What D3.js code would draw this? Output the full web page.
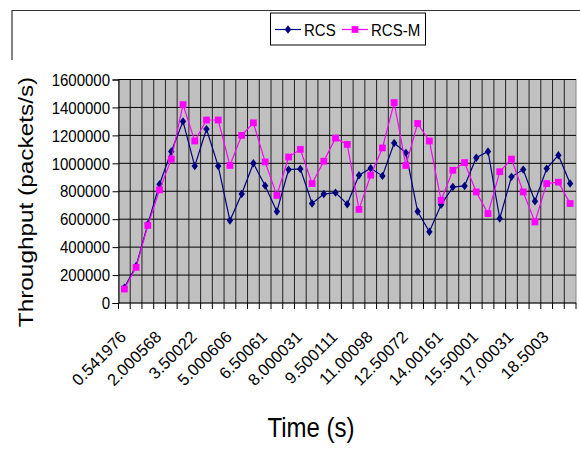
<!DOCTYPE html>
<html>
<head>
<meta charset="utf-8">
<script src="https://cdn.jsdelivr.net/npm/d3@7"></script>
<style>
    body { margin: 0; background: #fff; }
    svg { display: block; font-family: 'Liberation Sans', Arial, sans-serif; }
</style>
</head>
<body>
<div class="main"></div>
<script>
// values
const rcs = [110000, 265000, 565000, 850000, 1085000, 1300000, 980000, 1245000, 980000, 590000,
    780000, 1000000, 840000, 655000, 955000, 960000, 712000, 780000, 790000, 707000,
    915000, 965000, 910000, 1145000, 1075000, 655000, 510000, 703000, 830000, 838000,
    1040000, 1085000, 605000, 903000, 955000, 728000, 962000, 1058000, 855000];
const rcsM = [100000, 255000, 555000, 810000, 1030000, 1420000, 1160000, 1310000, 1310000, 985000,
    1200000, 1290000, 1010000, 770000, 1045000, 1100000, 855000, 1015000, 1180000, 1135000,
    670000, 915000, 1110000, 1435000, 985000, 1285000, 1160000, 735000, 950000, 1005000,
    795000, 640000, 940000, 1030000, 795000, 580000, 855000, 865000, 712000];
const timeLabels = ['0.541976', '2.000568', '3.50022', '5.000606', '6.50061', '8.000031', '9.500111',
    '11.00098', '12.50072', '14.00161', '15.50001', '17.00031', '18.5003'];
const yTicks = [0, 200000, 400000, 600000, 800000, 1000000, 1200000, 1400000, 1600000];
const seriesNames = ['RCS', 'RCS-M'];

const w = 580, h = 456,
    plot = {left: 118.5, right: 576, top: 79.5, bottom: 303},
    stretch = 1.16; // the source picture is a bit taller than normal text

const svg = d3.select('.main')
            .append('svg')
            .attr('width', w)
            .attr('height', h)

// outer frame (only top and a bit of the left side show)
svg.append('path')
    .attr('d', `M12,60 V10.5 H${w}`)
    .attr('fill', 'none')
    .attr('stroke', '#333')
    .attr('stroke-width', 1.2)

const cats = d3.range(rcs.length);
const x = d3.scaleBand()
            .domain(cats)
            .range([plot.left, plot.right])
const y = d3.scaleLinear()
            .domain([0, 1600000])
            .range([plot.bottom, plot.top])

svg.append('rect')
    .attr('x', plot.left)
    .attr('y', plot.top)
    .attr('width', plot.right - plot.left)
    .attr('height', plot.bottom - plot.top)
    .attr('fill', '#c0c0c0')
    .attr('stroke', '#888')

// vertical grid at category boundaries
svg.append('g')
    .selectAll('line')
    .data(cats.slice(1))
    .enter()
    .append('line')
    .attr('x1', d => x(d))
    .attr('x2', d => x(d))
    .attr('y1', plot.top)
    .attr('y2', plot.bottom)
    .attr('stroke', '#222')

// horizontal grid
svg.append('g')
    .selectAll('line')
    .data(yTicks.slice(1))
    .enter()
    .append('line')
    .attr('x1', plot.left)
    .attr('x2', plot.right)
    .attr('y1', d => y(d))
    .attr('y2', d => y(d))
    .attr('stroke', '#000')

// y axis
const yAxis = svg.append('g')
            .attr('transform', `translate(${plot.left}, 0)`)
            .call(d3.axisLeft(y).tickValues(yTicks).tickSize(6).tickFormat(d3.format('d')))
yAxis.select('.domain').attr('stroke', '#000')
yAxis.selectAll('text').remove()
svg.append('g')
    .selectAll('text')
    .data(yTicks)
    .enter()
    .append('text')
    .attr('transform', d => `translate(110, ${y(d) + 6.2}) scale(1, ${stretch})`)
    .attr('text-anchor', 'end')
    .attr('font-size', 15)
    .text(d => d)

// x axis with a tick at each category boundary
svg.append('line')
    .attr('x1', plot.left)
    .attr('x2', plot.right)
    .attr('y1', plot.bottom)
    .attr('y2', plot.bottom)
    .attr('stroke', '#000')
svg.append('g')
    .selectAll('line')
    .data(cats.concat([cats.length]))
    .enter()
    .append('line')
    .attr('x1', d => d < cats.length ? x(d) : plot.right)
    .attr('x2', d => d < cats.length ? x(d) : plot.right)
    .attr('y1', plot.bottom)
    .attr('y2', plot.bottom + 6)
    .attr('stroke', '#000')

svg.append('g')
    .selectAll('text')
    .data(timeLabels)
    .enter()
    .append('text')
    .attr('transform', (d, i) => {
        const cx = x(i * 3) + x.bandwidth() / 2;
        return `translate(${cx + 3}, 338) rotate(-45)`
    })
    .attr('text-anchor', 'end')
    .attr('font-size', 16.5)
    .text(d => d)

// series
const line = d3.line()
            .x((d, i) => x(i) + x.bandwidth() / 2)
            .y(d => y(d))

const series = [
    {name: seriesNames[0], values: rcs, color: '#000080', marker: 'diamond'},
    {name: seriesNames[1], values: rcsM, color: '#ff00ff', marker: 'square'}
];
const diamond = 'M0,-4.2 L3.2,0 L0,4.2 L-3.2,0 Z';
const square = 'M-3.4,-3.4 H3.4 V3.4 H-3.4 Z';

series.forEach(s => {
    svg.append('path')
        .datum(s.values)
        .attr('d', line)
        .attr('fill', 'none')
        .attr('stroke', s.color)
        .attr('stroke-width', 1.2)
    svg.append('g')
        .selectAll('path')
        .data(s.values)
        .enter()
        .append('path')
        .attr('transform', (d, i) => `translate(${x(i) + x.bandwidth() / 2}, ${y(d)})`)
        .attr('d', s.marker == 'diamond' ? diamond : square)
        .attr('fill', s.color)
})

// legend
const legend = svg.append('g')
                .attr('id', 'legend')
legend.append('rect')
    .attr('x', 270.5)
    .attr('y', 13)
    .attr('width', 155)
    .attr('height', 32)
    .attr('fill', '#fff')
    .attr('stroke', '#000')
const legendX = [275, 342];
series.forEach((s, i) => {
    const g = legend.append('g')
                .attr('transform', `translate(${legendX[i]}, 29.5)`)
    g.append('line')
        .attr('x1', 0)
        .attr('x2', 26)
        .attr('stroke', s.color)
        .attr('stroke-width', 1.2)
    g.append('path')
        .attr('transform', 'translate(13, 0)')
        .attr('d', s.marker == 'diamond' ? diamond : square)
        .attr('fill', s.color)
    g.append('text')
        .attr('transform', `translate(29, 6.3) scale(1, ${stretch})`)
        .attr('font-size', 15)
        .text(s.name)
})

// axis titles
svg.append('text')
    .attr('transform', `translate(311, 437) scale(1, ${stretch})`)
    .attr('text-anchor', 'middle')
    .attr('font-size', 24)
    .text('Time (s)')
svg.append('text')
    .attr('transform', `translate(33, 202) rotate(-90) scale(${stretch}, 1)`)
    .attr('text-anchor', 'middle')
    .attr('font-size', 21)
    .text('Throughput (packets/s)')
</script>
</body>
</html>
